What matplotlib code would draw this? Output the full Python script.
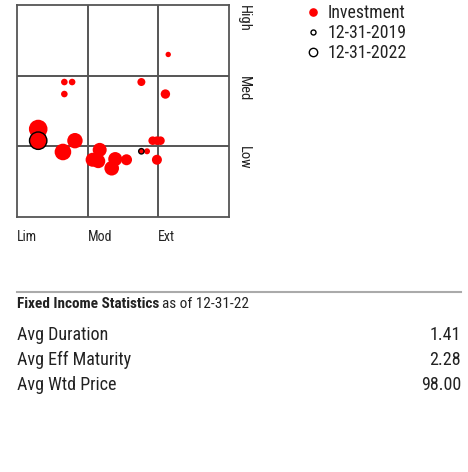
import matplotlib
matplotlib.use("Agg")
import matplotlib.pyplot as plt
from matplotlib import font_manager

W, H = 468, 472
DPI = 100

names = {f.name for f in font_manager.fontManager.ttflist}
FAM = [f for f in ["Liberation Sans Narrow", "Roboto Condensed", "Roboto", "DejaVu Sans"] if f in names] + ["DejaVu Sans"]
plt.rcParams['font.family'] = FAM

# Holdings style box, x: 0..3 (Lim..Ext), y: 0..3 (Low..High)
inv_x = [2.14, 0.67, 0.78, 0.67, 1.76, 2.10, 0.30, 0.30, 0.82, 0.65, 1.17, 1.07, 1.15, 1.39, 1.34, 1.55, 1.84, 1.98, 1.92, 1.98, 2.03]
inv_y = [2.30, 1.91, 1.91, 1.74, 1.91, 1.74, 1.245, 1.08, 1.08, 0.92, 0.95, 0.81, 0.79, 0.82, 0.69, 0.81, 0.93, 0.81, 1.08, 1.08, 1.08]
inv_r = [2.7, 3.3, 3.3, 3.3, 4.0, 4.7, 9.3, 8.7, 7.7, 8.3, 7.0, 7.0, 7.0, 7.0, 7.3, 5.5, 3.0, 5.0, 4.3, 4.3, 4.3]

hist_x = [1.76, 0.30]
hist_y = [0.93, 1.08]
hist_r = [2.7, 8.7]
hist_labels = ["12-31-2019", "12-31-2022"]

x_labels = ["Lim", "Mod", "Ext"]
y_labels = ["Low", "Med", "High"]

stat_names = ["Avg Duration", "Avg Eff Maturity", "Avg Wtd Price"]
stat_values = ["1.41", "2.28", "98.00"]

fig = plt.figure(figsize=(W / DPI, H / DPI), dpi=DPI)

def fx(px):
    return px / W

def fy(py):
    return 1 - py / H

L, T, R, B = 17, 5, 229, 217
ax = fig.add_axes([fx(L), fy(B), (R - L) / W, (B - T) / H])
ax.set_xlim(0, 3)
ax.set_ylim(0, 3)
ax.set_xticks([])
ax.set_yticks([])
grid_c = "#555555"
for s in ax.spines.values():
    s.set_color(grid_c)
    s.set_linewidth(1.3)
for v in [1, 2]:
    ax.axvline(v, color=grid_c, lw=1.4, zorder=1)
    ax.axhline(v, color=grid_c, lw=1.4, zorder=1)

px2pt = 72 / DPI
sizes = [(2 * r * px2pt) ** 2 for r in inv_r]
ax.scatter(inv_x, inv_y, s=sizes, color="#ff0000", edgecolors="none", zorder=3, clip_on=False)
hsizes = [(2 * r * px2pt) ** 2 for r in hist_r]
ax.scatter(hist_x, hist_y, s=hsizes, facecolors="#ff0000", edgecolors="black", linewidths=1.0, zorder=4)

# x labels
for i, lab in enumerate(x_labels):
    fig.text(fx(L + i * 70.67), fy(237), lab, fontsize=10, ha="left", va="center", color="#222222")
# y labels rotated
for i, lab in enumerate(y_labels):
    top = B - (i + 1) * 70.67
    fig.text(fx(244), fy(top), lab, fontsize=10.5, rotation=270, ha="center", va="top", color="#222222")

# legend
lx = 312.5
leg_items = [("Investment", 12, 3.6, "#ff0000", "#ff0000"),
             (hist_labels[0], 32, 2.5, "none", "black"),
             (hist_labels[1], 52, 4.2, "none", "black")]
for lab, y, r, fc, ec in leg_items:
    fig.add_artist(plt.Line2D([fx(lx)], [fy(y)], marker="o", markersize=2 * r * px2pt,
                              markerfacecolor=fc, markeredgecolor=ec,
                              markeredgewidth=1.0, linestyle="none", transform=fig.transFigure))
    fig.text(fx(328), fy(y + 0.5), lab, fontsize=12.8, ha="left", va="center", color="#222222")

# statistics section
fig.add_artist(plt.Line2D([fx(17), fx(461)], [fy(292), fy(292)], color="#aaaaaa", lw=1.5,
                          transform=fig.transFigure))
t = fig.text(fx(17), fy(304), "Fixed Income Statistics", fontsize=11, fontweight="bold",
             ha="left", va="center", color="#222222")
fig.canvas.draw()
bb = t.get_window_extent()
fig.text(bb.x1 / W + 3 / W, fy(304), "as of 12-31-22", fontsize=11, ha="left", va="center", color="#222222")
for i, (n, v) in enumerate(zip(stat_names, stat_values)):
    y = 335 + i * 25
    fig.text(fx(17), fy(y), n, fontsize=13, ha="left", va="center", color="#222222")
    fig.text(fx(461), fy(y), v, fontsize=13, ha="right", va="center", color="#222222")

fig.savefig("out.png", dpi=DPI)
